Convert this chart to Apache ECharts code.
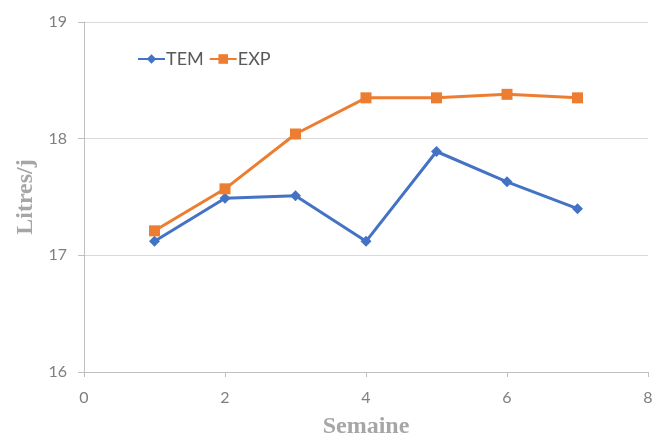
<!DOCTYPE html>
<html><head><meta charset="utf-8">
<script src="https://cdn.jsdelivr.net/npm/echarts@6/dist/echarts.min.js"></script>
<style>html,body{margin:0;padding:0;background:#fff}#c{width:659px;height:436px}</style>
</head><body><div id="c"></div>
<script>
const weeks = [1, 2, 3, 4, 5, 6, 7];
const tem = [17.12, 17.49, 17.51, 17.12, 17.89, 17.63, 17.40];
const exp = [17.21, 17.57, 18.04, 18.35, 18.35, 18.38, 18.35];
const chart = echarts.init(document.getElementById('c'));
const tickFont = {color: '#7f7f7f', fontSize: 16, fontFamily: 'Lato'};
const titleFont = {color: '#a6a6a6', fontSize: 24, fontWeight: 'bold', fontFamily: 'Liberation Serif'};
chart.setOption({
  animation: false,
  backgroundColor: '#fff',
  grid: {left: 84, right: 11, top: 22, bottom: 64, containLabel: false, outerBoundsMode: 'none'},
  legend: {
    left: 132, top: 45, itemWidth: 27, itemHeight: 12, itemGap: 5,
    textStyle: {color: '#595959', fontSize: 18, fontFamily: 'Lato', padding: [0, 0, 0, -4]},
    data: ['TEM', 'EXP']
  },
  xAxis: {
    type: 'value', min: 0, max: 8, interval: 2,
    name: 'Semaine', nameLocation: 'middle', nameGap: 43,
    nameTextStyle: titleFont,
    axisLine: {show: true, lineStyle: {color: '#bfbfbf', width: 1}},
    axisTick: {show: true, length: 5, lineStyle: {color: '#bfbfbf'}},
    axisLabel: Object.assign({margin: 18}, tickFont),
    splitLine: {show: false}
  },
  yAxis: {
    type: 'value', min: 16, max: 19, interval: 1,
    name: 'Litres/j', nameLocation: 'middle', nameGap: 43,
    nameTextStyle: titleFont,
    axisLine: {show: true, lineStyle: {color: '#bfbfbf', width: 1}},
    axisTick: {show: true, length: 6, lineStyle: {color: '#bfbfbf'}},
    axisLabel: Object.assign({margin: 17}, tickFont),
    splitLine: {show: true, lineStyle: {color: '#d9d9d9', width: 1}}
  },
  series: [
    {name: 'TEM', type: 'line', data: weeks.map((w, i) => [w, tem[i]]),
     symbol: 'diamond', symbolSize: 11, color: '#4472C4',
     lineStyle: {width: 3, color: '#4472C4'}, itemStyle: {color: '#4472C4'}},
    {name: 'EXP', type: 'line', data: weeks.map((w, i) => [w, exp[i]]),
     symbol: 'rect', symbolSize: 11, color: '#ED7D31',
     lineStyle: {width: 3, color: '#ED7D31'}, itemStyle: {color: '#ED7D31'}}
  ]
});
</script></body></html>
